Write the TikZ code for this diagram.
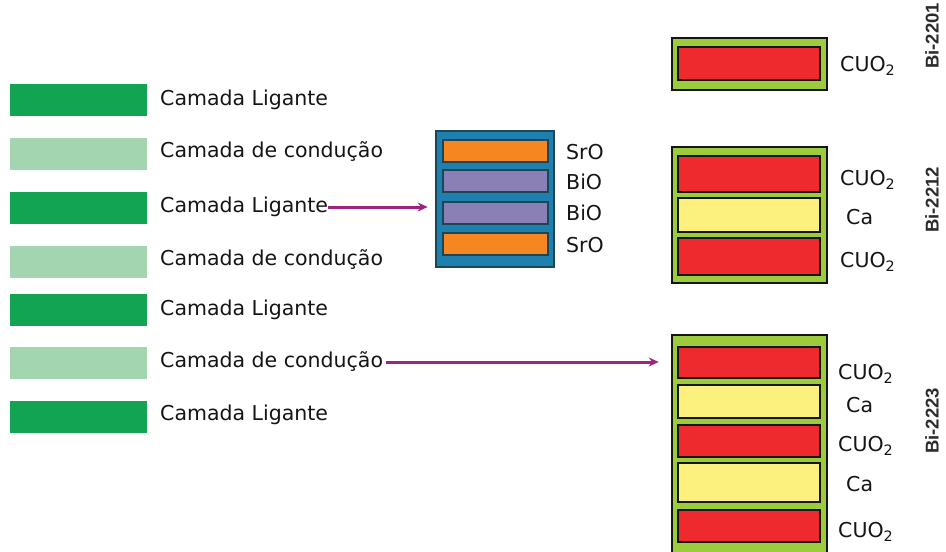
\documentclass[tikz,border=0pt]{standalone}
\usepackage{fontspec}
\setmainfont{DejaVu Sans}
\newfontfamily\bifont{Liberation Sans}
\usetikzlibrary{arrows.meta}
\definecolor{dkgreen}{HTML}{12A452}
\definecolor{ltgreen}{HTML}{A3D5B1}
\definecolor{redc}{HTML}{EE2A2E}
\definecolor{yelc}{HTML}{FCF07E}
\definecolor{limec}{HTML}{9CCB3C}
\definecolor{orangec}{HTML}{F6861F}
\definecolor{purplec}{HTML}{8A80B6}
\definecolor{tealc}{HTML}{1B4656}
\definecolor{bluec}{HTML}{1F7FAE}
\definecolor{arrowc}{HTML}{A0237F}
\definecolor{txtc}{HTML}{151515}
\tikzset{
  bar/.style={rectangle, inner sep=0pt, minimum width=137pt, minimum height=32pt},
  darkbar/.style={bar, fill=dkgreen},
  lightbar/.style={bar, fill=ltgreen},
  lbl/.style={anchor=west, inner sep=0pt, text=txtc, font=\fontsize{20.5}{23}\selectfont},
  outerbox/.style={rectangle, inner sep=0pt, draw=txtc, line width=2.5pt, fill=limec, minimum width=155pt},
  row/.style={rectangle, inner sep=0pt, draw=txtc, line width=1.5pt, minimum width=142pt},
  redrow/.style={row, fill=redc},
  yelrow/.style={row, fill=yelc},
  midbox/.style={rectangle, inner sep=0pt, draw=tealc, line width=2.5pt, fill=bluec, minimum width=118pt, minimum height=136pt},
  midrow/.style={rectangle, inner sep=0pt, draw=tealc, line width=1.5pt, minimum width=105pt, minimum height=22pt},
  orow/.style={midrow, fill=orangec},
  prow/.style={midrow, fill=purplec},
  bilbl/.style={rotate=90, inner sep=0pt, text=txtc!90, font=\bifont\bfseries\fontsize{18.5}{21}\selectfont},
  conn/.style={draw=arrowc, line width=3pt, -{Stealth[length=10pt,width=9pt]}}
}
\begin{document}
\begin{tikzpicture}[x=1pt,y=-1pt]
\useasboundingbox (0,0) rectangle (946,552);
\fill[white] (0,0) rectangle (946,552);
% left bars
\node[darkbar]  (b1) at (78.5,100) {};
\node[lightbar] (b2) at (78.5,154) {};
\node[darkbar]  (b3) at (78.5,208) {};
\node[lightbar] (b4) at (78.5,262) {};
\node[darkbar]  (b5) at (78.5,310) {};
\node[lightbar] (b6) at (78.5,363) {};
\node[darkbar]  (b7) at (78.5,417) {};
\node[lbl] (l1) at (160,100) {Camada Ligante};
\node[lbl] (l2) at (160,152) {Camada de condução};
\node[lbl] (l3) at (160,207) {Camada Ligante};
\node[lbl] (l4) at (160,260) {Camada de condução};
\node[lbl] (l5) at (160,310) {Camada Ligante};
\node[lbl] (l6) at (160,362) {Camada de condução};
\node[lbl] (l7) at (160,415) {Camada Ligante};
% middle stack
\node[midbox] (m) at (495,199) {};
\node[orow] (m1) at (495.5,151) {};
\node[prow] (m2) at (495.5,181) {};
\node[prow] (m3) at (495.5,213) {};
\node[orow] (m4) at (495.5,244) {};
\node[lbl] (ml1) at (566,152) {SrO};
\node[lbl] (ml2) at (566,182) {BiO};
\node[lbl] (ml3) at (566,213) {BiO};
\node[lbl] (ml4) at (566,245) {SrO};
% Bi-2201
\node[outerbox, minimum height=52pt] (s1) at (749.5,64) {};
\node[redrow, minimum height=33pt] (s1r1) at (749,63.5) {};
\node[lbl] (s1l1) at (840,66) {CUO\textsubscript{2}};
\node[bilbl] (bi1) at (932,36) {Bi-2201};
% Bi-2212
\node[outerbox, minimum height=136pt] (s2) at (749.5,215) {};
\node[redrow, minimum height=36pt] (s2r1) at (749,174) {};
\node[yelrow, minimum height=34pt] (s2r2) at (749,215) {};
\node[redrow, minimum height=37pt] (s2r3) at (749,256.5) {};
\node[lbl] (s2l1) at (840,180) {CUO\textsubscript{2}};
\node[lbl] (s2l2) at (846,217) {Ca};
\node[lbl] (s2l3) at (840,262) {CUO\textsubscript{2}};
\node[bilbl] (bi2) at (932,200) {Bi-2212};
% Bi-2223
\node[outerbox, minimum height=225pt] (s3) at (749.5,447.5) {};
\node[redrow, minimum height=31pt] (s3r1) at (749,362.5) {};
\node[yelrow, minimum height=33pt] (s3r2) at (749,401.5) {};
\node[redrow, minimum height=32pt] (s3r3) at (749,441) {};
\node[yelrow, minimum height=39pt] (s3r4) at (749,482.5) {};
\node[redrow, minimum height=32pt] (s3r5) at (749,526) {};
\node[lbl] (s3l1) at (838,374) {CUO\textsubscript{2}};
\node[lbl] (s3l2) at (846,405) {Ca};
\node[lbl] (s3l3) at (838,446) {CUO\textsubscript{2}};
\node[lbl] (s3l4) at (846,484) {Ca};
\node[lbl] (s3l5) at (838,532) {CUO\textsubscript{2}};
\node[bilbl] (bi3) at (932,421) {Bi-2223};
% connectors
\draw[conn] (l3.east) -- ([xshift=-7pt]m.west |- l3.east);
\draw[conn] ([xshift=3pt]l6.east) -- ([xshift=-12pt]s3.west |- l6.east);
\end{tikzpicture}
\end{document}
